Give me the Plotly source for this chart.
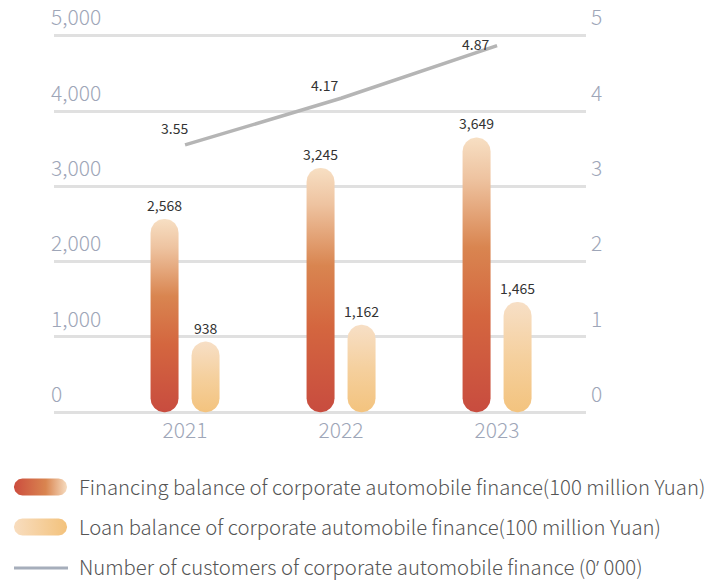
import numpy as np
import plotly.graph_objects as go

# ---------------- data ----------------
years = ["2021", "2022", "2023"]
financing = [2568, 3245, 3649]
loans = [938, 1162, 1465]
customers = [3.55, 4.17, 4.87]
left_ticks = [0, 1000, 2000, 3000, 4000, 5000]
right_ticks = [0, 1, 2, 3, 4, 5]
legend_labels = [
    "Financing balance of corporate automobile finance(100 million Yuan)",
    "Loan balance of corporate automobile finance(100 million Yuan)",
    "Number of customers of corporate automobile finance (0<span style='font-family:Noto Sans'>\u2019</span> 000)",
]

# ---------------- layout / style constants (pixels) ----------------
W, H = 709, 582
PX_L, PX_R = 54, 586          # plot area left/right
PX_B = 416                    # plot area bottom
PPU = 384 / 5100              # pixels per left-axis unit
YR = [-50, 5450]
Y2R = [YR[0] / 1000, YR[1] / 1000]
PX_T = PX_B - (YR[1] - YR[0]) * PPU
XR = [-0.84, 2.57]
BAR_OFF_PX = 20.5
BAR_HALF_PX = 14
LINE_LABEL_SHIFT = [(-11, 17), (-17, 13), (-22, 2)]

px_per_x = (PX_R - PX_L) / (XR[1] - XR[0])
bar_off = BAR_OFF_PX / px_per_x
hw = BAR_HALF_PX / px_per_x
ry = BAR_HALF_PX / PPU

FONT = "Noto Sans CJK SC, Noto Sans, sans-serif"
TICK_COLOR = "#9ea6b8"

fin_scale = [[0, "#c84c3f"], [0.35, "#d4663f"], [0.6, "#d98550"], [0.85, "#eec3a0"], [1, "#f7dfc3"]]
loan_scale = [[0, "#f3c37e"], [0.5, "#f5d09e"], [1, "#f7dfc6"]]


def pill(cx, v):
    t1 = np.linspace(np.pi, 2 * np.pi, 40)
    t2 = np.linspace(0, np.pi, 40)
    xs = np.concatenate([cx + hw * np.cos(t1), cx + hw * np.cos(t2)])
    ys = np.concatenate([ry + ry * np.sin(t1), (v - ry) + ry * np.sin(t2)])
    return np.append(xs, xs[0]), np.append(ys, ys[0])


fig = go.Figure()

for i, (f, l) in enumerate(zip(financing, loans)):
    xs, ys = pill(i - bar_off, f)
    fig.add_trace(go.Scatter(x=xs, y=ys, mode="lines", fill="toself", line=dict(width=0),
                             fillgradient=dict(type="vertical", colorscale=fin_scale),
                             hoverinfo="skip", xaxis="x", yaxis="y"))
    xs, ys = pill(i + bar_off, l)
    fig.add_trace(go.Scatter(x=xs, y=ys, mode="lines", fill="toself", line=dict(width=0),
                             fillgradient=dict(type="vertical", colorscale=loan_scale),
                             hoverinfo="skip", xaxis="x", yaxis="y"))

fig.add_trace(go.Scatter(x=list(range(len(years))), y=customers, mode="lines",
                         line=dict(color="#b5b5b5", width=3.5), xaxis="x", yaxis="y2"))

annotations = []
lab_font = dict(size=14, color="#333333", family=FONT)
for i, (f, l) in enumerate(zip(financing, loans)):
    annotations.append(dict(x=i - bar_off, y=f, xref="x", yref="y", text=f"{f:,}", showarrow=False,
                            yshift=14, font=lab_font))
    annotations.append(dict(x=i + bar_off, y=l, xref="x", yref="y", text=f"{l:,}", showarrow=False,
                            yshift=14, font=lab_font))
for i, c in enumerate(customers):
    dx, dy = LINE_LABEL_SHIFT[i]
    annotations.append(dict(x=i, y=c, xref="x", yref="y2", text=f"{c:.2f}", showarrow=False,
                            xshift=dx, yshift=dy, font=lab_font))

# custom legend
leg_y = [487, 527, 567]
for k, lab in enumerate(legend_labels):
    annotations.append(dict(x=77 / W, y=1 - (leg_y[k] - 1) / H, xref="paper", yref="paper", text=lab,
                            xanchor="left", yanchor="middle", showarrow=False,
                            font=dict(size=20.3, color="#555555", family=FONT, weight=300)))


def hpill(x0, x1, yc, r):
    t1 = np.linspace(np.pi / 2, 3 * np.pi / 2, 30)
    t2 = np.linspace(-np.pi / 2, np.pi / 2, 30)
    xs = np.concatenate([x0 + r + r * np.cos(t1), x1 - r + r * np.cos(t2)])
    ys = np.concatenate([yc - r * np.sin(t1), yc - r * np.sin(t2)])
    return np.append(xs, xs[0]), np.append(ys, ys[0])


xs, ys = hpill(14, 67, leg_y[0], 8.5)
fig.add_trace(go.Scatter(x=xs, y=ys, mode="lines", fill="toself", line=dict(width=0),
                         fillgradient=dict(type="horizontal",
                                           colorscale=[[0, "#cc4d3e"], [0.6, "#d98550"], [1, "#f6dcc0"]]),
                         hoverinfo="skip", xaxis="x3", yaxis="y3"))
xs, ys = hpill(14, 67, leg_y[1], 8.5)
fig.add_trace(go.Scatter(x=xs, y=ys, mode="lines", fill="toself", line=dict(width=0),
                         fillgradient=dict(type="horizontal",
                                           colorscale=[[0, "#f8ddbf"], [1, "#f3c27c"]]),
                         hoverinfo="skip", xaxis="x3", yaxis="y3"))
fig.add_trace(go.Scatter(x=[14, 68], y=[leg_y[2] + 1, leg_y[2] + 1], mode="lines",
                         line=dict(color="#a6aebb", width=3), hoverinfo="skip", xaxis="x3", yaxis="y3"))

tick_font = dict(size=21, color=TICK_COLOR, family=FONT, weight=300)
fig.update_layout(
    width=W, height=H,
    margin=dict(l=0, r=0, t=0, b=0, autoexpand=False),
    paper_bgcolor="white", plot_bgcolor="rgba(0,0,0,0)",
    showlegend=False,
    annotations=annotations,
    xaxis=dict(domain=[PX_L / W, PX_R / W], range=XR, tickvals=list(range(len(years))), ticktext=years,
               showgrid=False, zeroline=False, showline=False, ticks="", automargin=False,
               tickfont=tick_font, anchor="y"),
    yaxis=dict(domain=[1 - PX_B / H, 1 - PX_T / H], range=YR, tickvals=left_ticks,
               tickformat=",d", showgrid=True, gridcolor="#e0e0e0", gridwidth=2.5, zeroline=False,
               showline=False, ticks="", ticklabelposition="inside top", automargin=False,
               ticklabelshift=-3, ticklabelstandoff=-6, ticklabeloverflow="allow",
               tickfont=tick_font, anchor="x"),
    yaxis2=dict(domain=[1 - PX_B / H, 1 - PX_T / H], range=Y2R, tickvals=right_ticks, overlaying="y",
                side="right", showgrid=False, zeroline=False, showline=False, ticks="",
                ticklabelposition="outside top", automargin=False, ticklabelshift=-3, ticklabelstandoff=4,
                ticklabeloverflow="allow",
                tickfont=tick_font, anchor="x"),
    xaxis3=dict(domain=[0, 1], range=[0, W], visible=False, anchor="y3", fixedrange=True),
    yaxis3=dict(domain=[0, 1], range=[H, 0], visible=False, anchor="x3", fixedrange=True),
)

fig.write_html("out.html")
